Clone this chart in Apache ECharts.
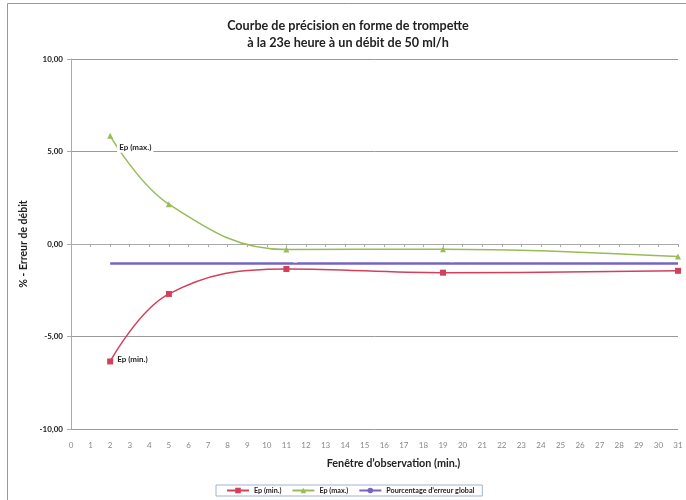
<!DOCTYPE html>
<html><head><meta charset="utf-8">
<script src="https://cdn.jsdelivr.net/npm/echarts@6/dist/echarts.min.js"></script>
<style>html,body{margin:0;padding:0;background:#fff}#c{width:686px;height:500px}</style>
</head><body><div id="c"></div>
<script>
const xPoints = [2, 5, 11, 19, 31];
const epMin = [-6.35, -2.7, -1.35, -1.55, -1.45];
const epMax = [5.85, 2.15, -0.3, -0.28, -0.68];
const globalX = [2, 31];
const globalVal = [-1.05, -1.05];
const titleLines = ['Courbe de précision en forme de trompette', 'à la 23e heure à un débit de 50 ml/h'];
const seriesNames = ['Ep (min.)', 'Ep (max.)', "Pourcentage d’erreur global"];

const F = 'Lato, "Open Sans", sans-serif';
const chart = echarts.init(document.getElementById('c'), null, {renderer: 'canvas'});
const pairs = (xs, ys) => xs.map((x, i) => [x, ys[i]]);
const fmt = v => v.toFixed(2).replace('.', ',');

chart.setOption({
  animation: false,
  title: {
    text: titleLines.join('\n'),
    left: 343, top: 12, textAlign: 'center',
    textStyle: {fontFamily: F, fontSize: 12.6, fontWeight: 'bold', color: '#222', lineHeight: 17}
  },
  graphic: [{
    type: 'rect', shape: {x: 7.5, y: 3.5, width: 700, height: 520},
    style: {fill: 'none', stroke: '#999', lineWidth: 1}, silent: true, z: -1
  }],
  legend: {
    bottom: 4, left: 216,
    itemWidth: 22, itemHeight: 7, itemGap: 10,
    padding: [2, 8, 2, 10],
    borderColor: '#9fb3d6', borderWidth: 1,
    textStyle: {fontFamily: F, fontSize: 7.2, fontWeight: 'bold', color: '#222'},
    data: [
      {name: seriesNames[0]},
      {name: seriesNames[1]},
      {name: seriesNames[2]}
    ]
  },
  grid: {left: 71, right: 8, top: 59, bottom: 71},
  xAxis: [{
    type: 'value', min: 0, max: 31, interval: 1,
    axisLine: {onZero: true, lineStyle: {color: '#aaa'}},
    axisTick: {show: true, length: 3, lineStyle: {color: '#aaa'}},
    axisLabel: {show: false},
    splitLine: {show: false}
  }, {
    type: 'value', min: 0, max: 31, interval: 1, position: 'bottom',
    axisLine: {show: false, onZero: false},
    axisTick: {show: false},
    axisLabel: {fontFamily: F, fontSize: 8, color: '#888', margin: 12},
    splitLine: {show: false},
    name: 'Fenêtre d’observation (min.)', nameLocation: 'middle', nameGap: 29,
    nameTextStyle: {fontFamily: F, fontSize: 10.8, fontWeight: 'bold', color: '#222', padding: [0, 0, 0, 38]}
  }],
  yAxis: {
    type: 'value', min: -10, max: 10, interval: 5,
    axisLine: {show: true, onZero: false, lineStyle: {color: '#aaa'}},
    axisTick: {show: true, length: 4, lineStyle: {color: '#aaa'}},
    axisLabel: {fontFamily: F, fontSize: 8, fontWeight: 'bold', color: '#222', formatter: fmt, margin: 8},
    splitLine: {show: true, lineStyle: {color: '#999', width: 1}},
    name: '% - Erreur de débit', nameLocation: 'middle', nameGap: 34,
    nameTextStyle: {fontFamily: F, fontSize: 10.5, fontWeight: 'bold', color: '#222'}
  },
  series: [{
    name: seriesNames[0], type: 'line', smooth: 0.4,
    data: pairs(xPoints, epMin),
    symbol: 'rect', symbolSize: 6,
    lineStyle: {color: '#d4405c', width: 1.5},
    itemStyle: {color: '#d4405c'},
    label: {show: true, position: 'right', distance: 4,
      formatter: p => p.dataIndex === 0 ? seriesNames[0] : '',
      fontFamily: F, fontSize: 8, fontWeight: 'bold', color: '#222', offset: [0, -2]},
    z: 3
  }, {
    name: seriesNames[1], type: 'line', smooth: 0.4,
    data: pairs(xPoints, epMax),
    symbol: 'triangle', symbolSize: 6,
    lineStyle: {color: '#9bbb59', width: 1.5},
    itemStyle: {color: '#9bbb59'},
    label: {show: true, position: 'right', distance: 2,
      formatter: p => p.dataIndex === 0 ? seriesNames[1] : '',
      fontFamily: F, fontSize: 8, fontWeight: 'bold', color: '#222',
      backgroundColor: '#fff', padding: [1, 2], offset: [2, 12]},
    z: 3
  }, {
    name: seriesNames[2], type: 'line',
    data: pairs(globalX, globalVal),
    symbol: 'none',
    lineStyle: {color: '#7464c4', width: 2.5},
    itemStyle: {color: '#7464c4'},
    z: 2
  }]
});
</script></body></html>
